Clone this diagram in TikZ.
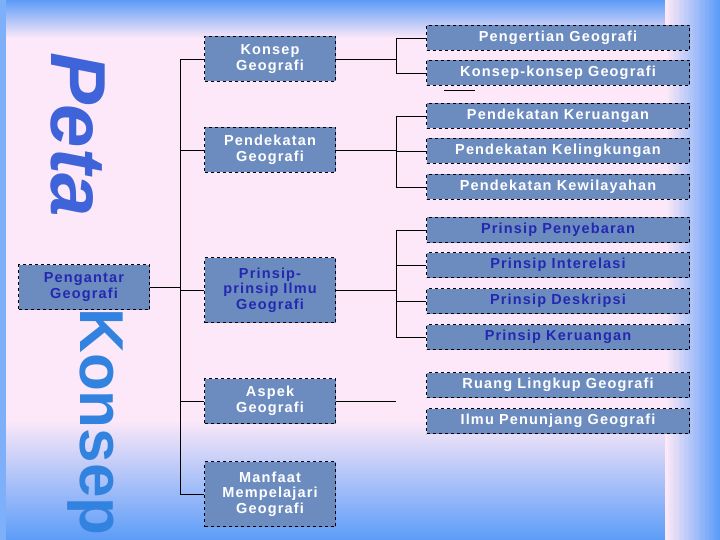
\documentclass[tikz,border=0pt]{standalone}
\usepackage{fontspec}
\setmainfont{Liberation Sans}
\newfontfamily\spaced[LetterSpace=8]{Liberation Sans}
\definecolor{bgpink}{HTML}{FCE8F8}
\definecolor{bgblue}{HTML}{5C9CF8}
\definecolor{boxblue}{HTML}{6C8CC0}
\definecolor{dkblue}{HTML}{2428B0}
\definecolor{bigblue}{HTML}{3F63D8}
\tikzset{
  bx/.style={draw=black, dashed, fill=boxblue, font=\spaced\bfseries\fontsize{14.5}{15.5}\selectfont, text=white, align=center, inner sep=1pt},
  lbox/.style={bx, minimum width=131pt, minimum height=45pt, text width=129pt},
  rbox/.style={bx, minimum width=263pt, minimum height=25pt},
  dk/.style={text=dkblue},
  ln/.style={draw=black, line width=0.8pt},
}
\begin{document}
\begin{tikzpicture}[x=1pt,y=-1pt]
\useasboundingbox (0,0) rectangle (720,540);
% background
\fill[bgpink] (0,0) rectangle (720,540);
\fill[top color=bgblue, bottom color=bgpink] (0,0) rectangle (720,38);
\fill[top color=bgpink, bottom color=bgblue] (0,420) rectangle (720,540);
\foreach \i in {0,...,21} {
  \pgfmathsetmacro{\pc}{100-\i*100/21}
  \fill[bgpink!\pc!bgblue] (665+\i*2.5,0) rectangle (668+\i*2.5,540);
}
\fill[bgblue!80!white] (0,0) rectangle (6,540);
% big text
\node[rotate=-90, text=bigblue, font=\bfseries\itshape\fontsize{78}{80}\selectfont, inner sep=0] (peta) at (78,135) {Peta};
\node[rotate=-90, text=bigblue!80!cyan, font=\bfseries\fontsize{62}{64}\selectfont, inner sep=0] (konsep) at (95,422) {Konsep};
% boxes
\node[lbox, dk] (root) at (84,287) {Pengantar\\Geografi};
\node[lbox] (k) at (270,59) {Konsep\\Geografi};
\node[lbox] (p) at (270,150) {Pendekatan\\Geografi};
\node[lbox, dk, minimum height=65pt] (pr) at (270,290) {Prinsip-\\prinsip Ilmu\\Geografi};
\node[lbox] (a) at (270,401) {Aspek\\Geografi};
\node[lbox, minimum height=65pt] (m) at (270,494) {Manfaat\\Mempelajari\\Geografi};
\node[rbox] (r1) at (558,38) {Pengertian Geografi};
\node[rbox] (r2) at (558,73) {Konsep-konsep Geografi};
\node[rbox] (r3) at (558,116) {Pendekatan Keruangan};
\node[rbox] (r4) at (558,151) {Pendekatan Kelingkungan};
\node[rbox] (r5) at (558,187) {Pendekatan Kewilayahan};
\node[rbox, dk] (r6) at (558,230) {Prinsip Penyebaran};
\node[rbox, dk] (r7) at (558,265) {Prinsip Interelasi};
\node[rbox, dk] (r8) at (558,301) {Prinsip Deskripsi};
\node[rbox, dk] (r9) at (558,337) {Prinsip Keruangan};
\node[rbox] (r10) at (558,385) {Ruang Lingkup Geografi};
\node[rbox] (r11) at (558,421) {Ilmu Penunjang Geografi};
% trunk
\coordinate (t) at (180,0);
\draw[ln] (root.east) -- (t |- root.east);
\draw[ln] (k.west) -- (t |- k.west) -- (t |- m.west) -- (m.west);
\foreach \n in {p,pr,a} \draw[ln] (\n.west) -- (t |- \n.west);
% branches
\coordinate (b) at (396,0);
\draw[ln] (k.east) -- (b |- k.east);
\draw[ln] (r1.west) -- (b |- r1.west) -- (b |- r2.west) -- (r2.west);
\draw[ln] (p.east) -- (b |- p.east);
\draw[ln] (r3.west) -- (b |- r3.west) -- (b |- r5.west) -- (r5.west);
\draw[ln] (r4.west) -- (b |- r4.west);
\draw[ln] (pr.east) -- (b |- pr.east);
\draw[ln] (r6.west) -- (b |- r6.west) -- (b |- r9.west) -- (r9.west);
\draw[ln] (r7.west) -- (b |- r7.west);
\draw[ln] (r8.west) -- (b |- r8.west);
\draw[ln] (a.east) -- (b |- a.east);
\coordinate (u1) at (444,90); \coordinate (u2) at (475,90);
\draw[ln] (u1) -- (u2);
\end{tikzpicture}
\end{document}
